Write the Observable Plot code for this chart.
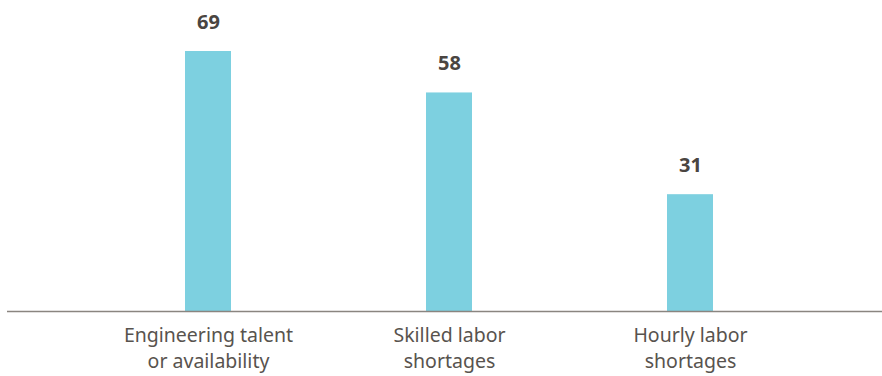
<!DOCTYPE html>
<html>
<head>
<meta charset="utf-8">
<script src="https://cdn.jsdelivr.net/npm/d3@7"></script>
<script src="https://cdn.jsdelivr.net/npm/@observablehq/plot@0.6"></script>
<style>
  html, body { margin: 0; padding: 0; background: #fff; }
  #chart svg { display: block; }
</style>
</head>
<body>
<div id="chart"></div>
<script>
const categories = ["Engineering talent\nor availability", "Skilled labor\nshortages", "Hourly labor\nshortages"];
const values = [69, 58, 31];

const data = categories.map((c, i) => ({category: c, value: values[i]}));

const chart = Plot.plot({
  width: 882,
  height: 376,
  marginLeft: 7,
  marginRight: 0,
  marginTop: 51,
  marginBottom: 65,
  style: {fontFamily: "'Noto Sans', 'Open Sans', sans-serif", background: "#fff"},
  x: {domain: categories, range: [87, 810], paddingInner: 0.81, paddingOuter: 0.405, label: null},
  y: {domain: [0, 69], axis: null},
  marks: [
    Plot.barY(data, {x: "category", y: "value", fill: "#7dd0e0"}),
    Plot.ruleY([0], {stroke: "#8a8580", strokeWidth: 1.5}),
    Plot.text(data, {x: "category", y: "value", text: d => String(d.value), dy: -29, fontSize: 20, fontWeight: "bold", fill: "#4a4541"}),
    Plot.axisX({tickSize: 0, tickPadding: 12, fontSize: 19.5, lineHeight: 1.33, color: "#58534e", label: null})
  ]
});
document.getElementById("chart").appendChild(chart);
</script>
</body>
</html>
